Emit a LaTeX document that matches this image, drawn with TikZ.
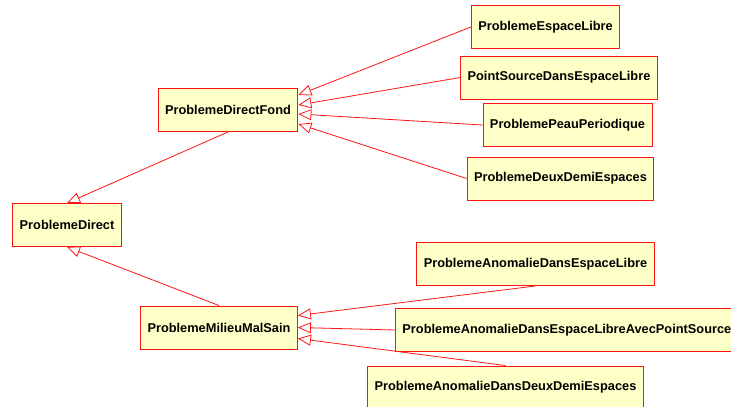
\documentclass[tikz,border=0pt]{standalone}
\usepackage{fontspec}
\setmainfont{Liberation Sans}
\usetikzlibrary{arrows.meta}
\definecolor{classfill}{RGB}{255,255,200}
\definecolor{classred}{RGB}{255,20,20}
\tikzset{
  cls/.style={draw=classred, fill=classfill, line width=0.9pt, minimum height=43pt,
    inner xsep=7pt, font=\bfseries\fontsize{12.8}{14}\selectfont},
  gen/.style={draw=classred, line width=0.8pt, -{Triangle[open, length=13pt, width=11pt]}}
}
\begin{document}
\begin{tikzpicture}[x=1pt,y=-1pt]
  \useasboundingbox (0,0) rectangle (731,407);
  \node[cls] (Direct) at (67,225) {ProblemeDirect};
  \node[cls] (Fond) at (228,110) {ProblemeDirectFond};
  \node[cls] (Milieu) at (219,327.5) {ProblemeMilieuMalSain};
  \node[cls] (EspLibre) at (545.5,27) {ProblemeEspaceLibre};
  \node[cls] (PtSource) at (559,77.5) {PointSourceDansEspaceLibre};
  \node[cls] (Peau) at (567.5,125) {ProblemePeauPeriodique};
  \node[cls] (DeuxDemi) at (560.5,178.5) {ProblemeDeuxDemiEspaces};
  \node[cls] (AnoLibre) at (535.5,264) {ProblemeAnomalieDansEspaceLibre};
  \node[cls, anchor=west] (AnoSource) at (395,330) {ProblemeAnomalieDansEspaceLibreAvecPointSource};
  \node[cls] (AnoDeux) at (505.5,387.5) {ProblemeAnomalieDansDeuxDemiEspaces};
  \draw[gen] (Fond.south) -- (Direct.north);
  \draw[gen] (Milieu.north) -- (Direct.south);
  \draw[gen] (EspLibre.west) -- ([yshift=15pt]Fond.east);
  \draw[gen] (PtSource.west) -- ([yshift=5pt]Fond.east);
  \draw[gen] (Peau.west) -- ([yshift=-4pt]Fond.east);
  \draw[gen] (DeuxDemi.west) -- ([yshift=-14pt]Fond.east);
  \draw[gen] (AnoLibre.south) -- ([yshift=12pt]Milieu.east);
  \draw[gen] (AnoSource.west) -- (Milieu.east);
  \draw[gen] (AnoDeux.north) -- ([yshift=-11pt]Milieu.east);
\end{tikzpicture}
\end{document}
